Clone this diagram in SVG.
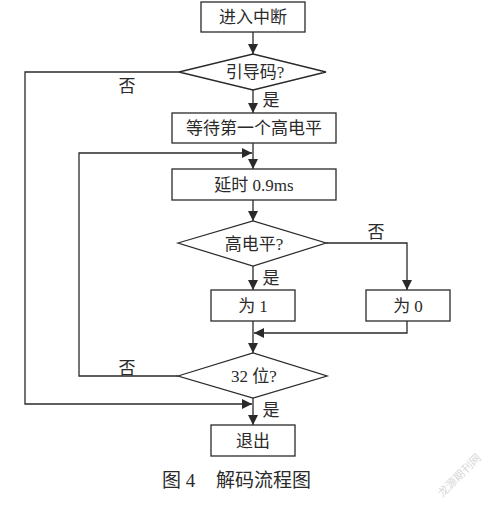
<svg xmlns="http://www.w3.org/2000/svg" width="500" height="505" viewBox="0 0 500 505">
<style>
.n{fill:#fff;stroke:#2a2a2a;stroke-width:1.3}
.c{fill:none;stroke:#2a2a2a;stroke-width:1.3}
text{font-family:"Liberation Serif","Noto Sans CJK SC",serif;font-size:17px;fill:#2a2a2a}
.m{text-anchor:middle}
</style>
<defs>
<marker id="a" viewBox="0 0 10 10" refX="10" refY="5" markerWidth="10" markerHeight="10" markerUnits="userSpaceOnUse" orient="auto">
<path d="M0,0 L10,5 L0,10 z" fill="#2a2a2a"/>
</marker>
</defs>
<rect width="500" height="505" fill="#fff"/>
<g id="connectors">
<path class="c" d="M253,32 V54" marker-end="url(#a)"/>
<path class="c" d="M253,90 V113" marker-end="url(#a)"/>
<path class="c" d="M253,143 V169" marker-end="url(#a)"/>
<path class="c" d="M253,200 V221" marker-end="url(#a)"/>
<path class="c" d="M253,266 V290" marker-end="url(#a)"/>
<path class="c" d="M326,243 H407 V290" marker-end="url(#a)"/>
<path class="c" d="M253,321 V353" marker-end="url(#a)"/>
<path class="c" d="M407,321 V333 H254" marker-end="url(#a)"/>
<path class="c" d="M253,398 V425" marker-end="url(#a)"/>
<path class="c" d="M179,72 H25 V404 H252" marker-end="url(#a)"/>
<path class="c" d="M178,376 H79 V153 H252" marker-end="url(#a)"/>
<text x="127" y="92" class="m">否</text>
<text x="271" y="106" class="m">是</text>
<text x="376" y="238" class="m">否</text>
<text x="271" y="284" class="m">是</text>
<text x="127" y="374" class="m">否</text>
<text x="271" y="416" class="m">是</text>
</g>
<g id="start"><rect class="n" x="201" y="2" width="104" height="30"/><text x="253" y="23" class="m">进入中断</text></g>
<g id="d1"><polygon class="n" points="179,72 253,54 326,72 253,90"/><text x="255" y="78" class="m">引导码?</text></g>
<g id="wait"><rect class="n" x="172" y="113" width="164" height="30"/><text x="254" y="134" class="m">等待第一个高电平</text></g>
<g id="delay"><rect class="n" x="172" y="169" width="164" height="31"/><text x="254" y="191" class="m">延时 0.9ms</text></g>
<g id="d2"><polygon class="n" points="178,243 253,221 326,243 253,266"/><text x="254" y="250" class="m">高电平?</text></g>
<g id="one"><rect class="n" x="211" y="290" width="84" height="31"/><text x="253" y="312" class="m">为 1</text></g>
<g id="zero"><rect class="n" x="366" y="290" width="84" height="31"/><text x="408" y="312" class="m">为 0</text></g>
<g id="d3"><polygon class="n" points="178,376 253,353 327,376 253,398"/><text x="254" y="382" class="m">32 位?</text></g>
<g id="exit"><rect class="n" x="211" y="425" width="84" height="31"/><text x="253" y="447" class="m">退出</text></g>
<text x="162" y="487" style="font-size:19px">图 4</text>
<text x="216" y="487" style="font-size:19px">解码流程图</text>
<text x="0" y="0" transform="translate(462,478) rotate(-45)" class="m" style="font-size:11px;fill:#d8d8d8">龙源期刊网</text>
</svg>
